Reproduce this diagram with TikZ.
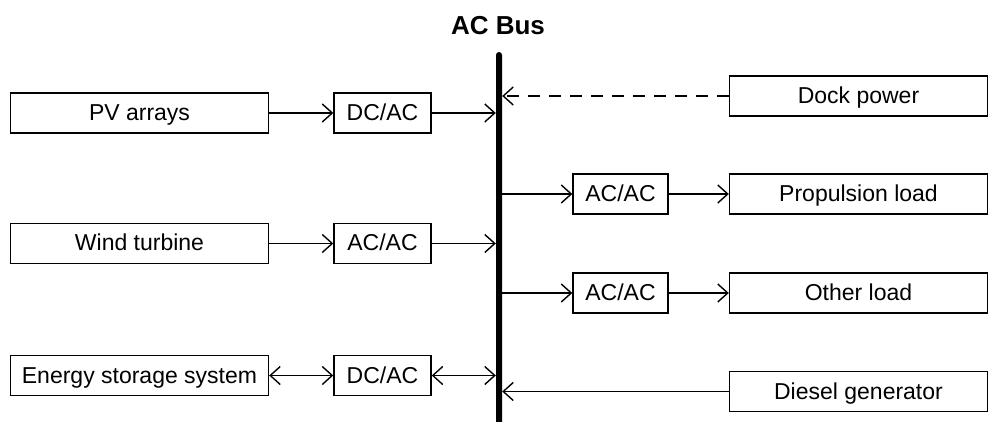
\documentclass[tikz,border=0pt]{standalone}
\usepackage{fontspec}
\setmainfont{Liberation Sans}
\usetikzlibrary{arrows.meta}
\begin{document}
\begin{tikzpicture}[x=1pt,y=-1pt,
  box/.style={draw=black, line width=1.4pt, rectangle, inner sep=0pt, minimum height=40pt, text height=16.5pt, text depth=1.5pt, font=\fontsize{23}{27}\selectfont},
  bigbox/.style={box, minimum width=258pt},
  convbox/.style={box, minimum width=97pt},
  conn/.style={line width=1.4pt, -{Straight Barb[length=10pt,width=18pt,line width=1.4pt]}},
  bconn/.style={line width=1.4pt, {Straight Barb[length=10pt,width=18pt,line width=1.4pt]}-{Straight Barb[length=10pt,width=18pt,line width=1.4pt]}}
]
\useasboundingbox (0,0) rectangle (988,422);
% AC bus
\node[fill=black, inner sep=0pt, minimum width=6pt, minimum height=376pt, rounded corners=3pt] (bus) at (499,240) {};
\node[font=\bfseries\fontsize{26}{31}\selectfont, inner sep=0pt] (buslabel) at (498,26) {AC Bus};
% left column
\node[bigbox] (pv) at (139.5,113) {PV arrays};
\node[convbox] (dc1) at (382.5,113) {DC/AC};
\node[bigbox] (wind) at (139.5,243.5) {Wind turbine};
\node[convbox] (ac1) at (382.5,243.5) {AC/AC};
\node[bigbox] (ess) at (139.5,375.5) {Energy storage system};
\node[convbox] (dc2) at (382.5,375.5) {DC/AC};
% right column
\node[bigbox] (dock) at (858.5,96) {Dock power};
\node[convbox, minimum width=95pt] (ac2) at (620.5,194) {AC/AC};
\node[bigbox] (prop) at (858.5,194) {Propulsion load};
\node[convbox, minimum width=95pt] (ac3) at (620.5,293) {AC/AC};
\node[bigbox] (other) at (858.5,293) {Other load};
\node[bigbox] (diesel) at (858.5,391.5) {Diesel generator};
% connectors
\draw[conn] (pv) -- (dc1);
\draw[conn] (dc1) -- (dc1 -| bus.west);
\draw[conn] (wind) -- (ac1);
\draw[conn] (ac1) -- (ac1 -| bus.west);
\draw[bconn] (ess) -- (dc2);
\draw[bconn] (dc2) -- (dc2 -| bus.west);
\draw[conn, dash pattern=on 12pt off 9pt] (dock) -- (dock -| bus.east);
\draw[conn] (ac2 -| bus.east) -- (ac2);
\draw[conn] (ac2) -- (prop);
\draw[conn] (ac3 -| bus.east) -- (ac3);
\draw[conn] (ac3) -- (other);
\draw[conn] (diesel) -- (diesel -| bus.east);
\end{tikzpicture}
\end{document}
